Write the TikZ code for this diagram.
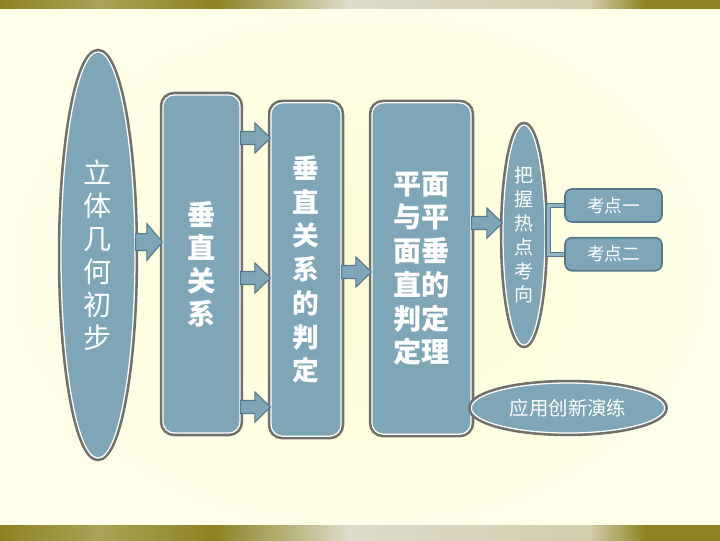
\documentclass[tikz,border=0pt]{standalone}
\usepackage{fontspec}
\newfontfamily\cjk{Noto Sans CJK SC}
\usepackage{tikz}
\usetikzlibrary{shapes.geometric, calc, positioning}

\definecolor{boxfill}{RGB}{126,166,183}
\definecolor{rimgray}{RGB}{112,113,106}
\definecolor{arredge}{RGB}{86,122,137}
\definecolor{creamin}{RGB}{253,252,212}
\definecolor{creamout}{RGB}{255,255,234}
\definecolor{bandolive}{RGB}{140,131,34}
\definecolor{bandolivelt}{RGB}{170,162,86}
\definecolor{bandlt}{RGB}{222,220,204}
\definecolor{bandmid}{RGB}{210,205,170}

% olive edge band, left to right
\pgfdeclarehorizontalshading{edgeband}{100bp}{
  color(0bp)=(bandolive); color(25bp)=(bandolive); color(31.9bp)=(bandolivelt);
  color(39.9bp)=(bandolive); color(49.3bp)=(bandlt); color(66bp)=(bandmid);
  color(69.8bp)=(bandolive); color(100bp)=(bandolive)}

% block arrow: from, to, half shaft, half head
\newcommand{\blockarrow}[4]{%
  \draw[barr] let \p1=(#1), \p2=(#2) in
    (\x1,\y1+#3) -- (\x2-11pt,\y1+#3) -- (\x2-11pt,\y1+#4) -- (\x2,\y1)
    -- (\x2-11pt,\y1-#4) -- (\x2-11pt,\y1-#3) -- (\x1,\y1-#3) -- cycle;}

\begin{document}
\begin{tikzpicture}[
    x=0.025cm, y=-0.025cm,
    rimmed/.style={fill=boxfill, draw=white, line width=0.9pt, preaction={draw=rimgray, line width=4.6pt}},
    mainbox/.style={rimmed, rectangle, rounded corners=8pt, inner sep=0pt, text=white, align=center},
    oval/.style={rimmed, ellipse, inner sep=0pt, text=white, align=center},
    pointbox/.style={rectangle, rounded corners=5pt, fill=boxfill, draw=arredge, line width=1.2pt, minimum width=2.425cm, minimum height=0.825cm, text=white, font=\cjk\fontsize{12.5}{15}\selectfont},
    barr/.style={fill=boxfill, draw=arredge, line width=0.8pt, line join=miter},
    link/.style={draw=arredge, double=boxfill!85!white, double distance=2.2pt, line width=0.8pt}
]
% Background
\shade[inner color=creamin, outer color=creamout] (0,0) rectangle (720,540);
\shade[shading=edgeband] (0,0) rectangle (720,8);
\shade[shading=edgeband] (0,525) rectangle (720,540);

% Main chain
\node[oval, minimum width=1.85cm, minimum height=10.15cm, font=\cjk\fontsize{20}{23.5}\selectfont] (geo) at (98,255) {立\\体\\几\\何\\初\\步};
\node[mainbox, minimum width=1.925cm, minimum height=8.45cm, font=\cjk\bfseries\fontsize{20}{23.5}\selectfont] (rel) at (201.5,264) {垂\\直\\关\\系};
\node[mainbox, minimum width=1.75cm, minimum height=8.33cm, font=\cjk\bfseries\fontsize{19}{24}\selectfont] (judge) at (306,269.5) {垂\\直\\关\\系\\的\\判\\定};
\node[mainbox, minimum width=2.475cm, minimum height=8.28cm, font=\cjk\bfseries\fontsize{20}{24}\selectfont] (thm) at (421.5,268.5) {平面\\与平\\面垂\\直的\\判定\\定理};

% Hot points and practice
\node[oval, minimum width=1.05cm, minimum height=5.5cm, font=\cjk\fontsize{13.5}{17}\selectfont] (hot) at (524,235) {把\\握\\热\\点\\考\\向};
\node[pointbox] (kd1) at (613.5,205.5) {考点一};
\node[pointbox, below=0.35cm of kd1] (kd2) {考点二};
\node[oval, minimum width=4.83cm, minimum height=1.25cm, font=\cjk\fontsize{13.8}{16}\selectfont] (drill) at (568,408) {应用创新演练};

% Arrows
\blockarrow{geo.east |- 0,242}{rel.west |- 0,242}{6pt}{13pt}
\blockarrow{rel.east |- 0,138}{judge.west |- 0,138}{4.6pt}{10.7pt}
\blockarrow{rel.east |- 0,278}{judge.west |- 0,278}{4.6pt}{10.7pt}
\blockarrow{rel.east |- 0,407}{judge.west |- 0,407}{4.6pt}{10.7pt}
\blockarrow{judge.east |- 0,272}{thm.west |- 0,272}{4.6pt}{10.7pt}
\blockarrow{thm.east |- 0,223}{hot.west |- 0,223}{4.6pt}{10.7pt}

% Bracket to points
\draw[link] (kd1.west) -- ++(-16,0) |- (kd2.west);

\end{tikzpicture}
\end{document}
